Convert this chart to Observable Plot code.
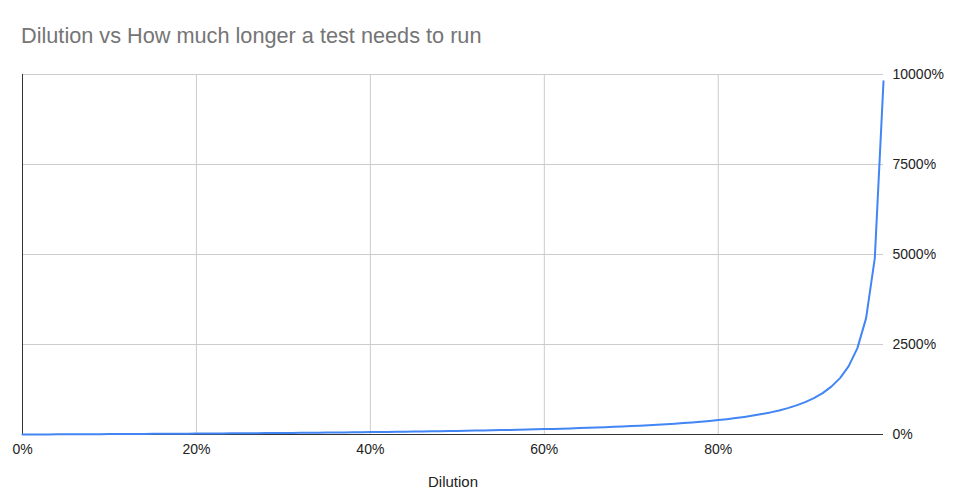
<!DOCTYPE html>
<html><head><meta charset="utf-8">
<script src="https://cdn.jsdelivr.net/npm/d3@7"></script>
<script src="https://cdn.jsdelivr.net/npm/@observablehq/plot@0.6"></script>
<style>
body{margin:0;background:#fff;}
#wrap{position:relative;width:956px;height:498px;overflow:hidden;}
#title{position:absolute;left:21px;top:24px;font-size:21.7px;line-height:1.15;font-family:Arial,"Liberation Sans",sans-serif;color:#757575;white-space:nowrap;}
#chart{position:absolute;left:0;top:0;}
</style></head><body>
<div id="wrap"><div id="chart"></div><div id="title"></div></div>
<script>
const titleText = "Dilution vs How much longer a test needs to run";
const xLabel = "Dilution";
// Dilution (fraction) and how much longer the test needs to run (percent)
const dilution = [
  0.00,0.01,0.02,0.03,0.04,0.05,0.06,0.07,0.08,0.09,
  0.10,0.11,0.12,0.13,0.14,0.15,0.16,0.17,0.18,0.19,
  0.20,0.21,0.22,0.23,0.24,0.25,0.26,0.27,0.28,0.29,
  0.30,0.31,0.32,0.33,0.34,0.35,0.36,0.37,0.38,0.39,
  0.40,0.41,0.42,0.43,0.44,0.45,0.46,0.47,0.48,0.49,
  0.50,0.51,0.52,0.53,0.54,0.55,0.56,0.57,0.58,0.59,
  0.60,0.61,0.62,0.63,0.64,0.65,0.66,0.67,0.68,0.69,
  0.70,0.71,0.72,0.73,0.74,0.75,0.76,0.77,0.78,0.79,
  0.80,0.81,0.82,0.83,0.84,0.85,0.86,0.87,0.88,0.89,
  0.90,0.91,0.92,0.93,0.94,0.95,0.96,0.97,0.98,0.99
];
const longerPct = [
  0,1,2,3,4,5,6,8,9,10,
  11,12,14,15,16,18,19,20,22,23,
  25,27,28,30,32,33,35,37,39,41,
  43,45,47,49,52,54,56,59,61,64,
  67,69,72,75,79,82,85,89,92,96,
  100,104,108,113,117,122,127,133,138,144,
  150,156,163,170,178,186,194,203,213,223,
  233,245,257,270,285,300,317,335,355,376,
  400,426,456,488,525,567,614,669,733,809,
  900,1011,1150,1329,1567,1900,2400,3233,4900,9810
];
const xTicks = [0, 0.2, 0.4, 0.6, 0.8];
const yTicks = [0, 2500, 5000, 7500, 10000];

document.getElementById("title").textContent = titleText;

const rows = dilution.map((d, i) => ({d, v: longerPct[i]}));

const chart = Plot.plot({
  width: 956,
  height: 498,
  marginLeft: 22,
  marginRight: 73,
  marginTop: 74,
  marginBottom: 64,
  style: {fontFamily: "Arial, 'Liberation Sans', sans-serif", fontSize: "14px", color: "#222", background: "transparent"},
  x: {domain: [0, 0.99]},
  y: {domain: [0, 10000]},
  marks: [
    Plot.ruleX(xTicks.filter(d => d > 0), {stroke: "#cccccc", strokeOpacity: 1}),
    Plot.ruleY(yTicks.filter(d => d > 0), {stroke: "#cccccc", strokeOpacity: 1}),
    Plot.ruleX([0], {stroke: "#333333"}),
    Plot.ruleY([0], {stroke: "#333333"}),
    Plot.axisX({ticks: xTicks, tickFormat: d => Math.round(d * 100) + "%", tickSize: 0, tickPadding: 10, label: null}),
    Plot.axisY({anchor: "right", ticks: yTicks, tickFormat: d => d + "%", tickSize: 0, tickPadding: 9, label: null}),
    Plot.text([xLabel], {frameAnchor: "bottom", dy: 52, text: d => d, fontSize: 15}),
    Plot.line(rows, {x: "d", y: "v", stroke: "#4285f4", strokeWidth: 2})
  ]
});
document.getElementById("chart").appendChild(chart);
</script>
</body></html>
